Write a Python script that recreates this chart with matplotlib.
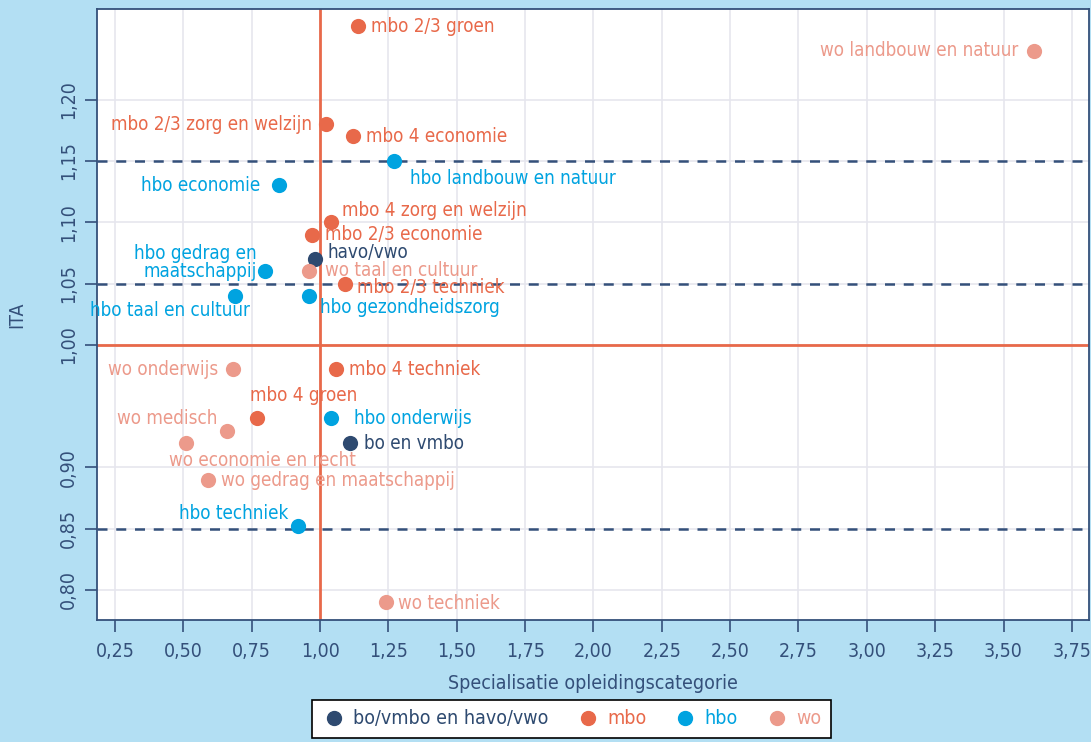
import matplotlib.pyplot as plt
from matplotlib.lines import Line2D

# data
names = ["mbo 2/3 groen", "wo landbouw en natuur", "mbo 2/3 zorg en welzijn", "mbo 4 economie",
         "hbo landbouw en natuur", "hbo economie", "mbo 4 zorg en welzijn", "mbo 2/3 economie",
         "havo/vwo", "wo taal en cultuur", "hbo gedrag en\nmaatschappij", "mbo 2/3 techniek",
         "hbo taal en cultuur", "hbo gezondheidszorg", "wo onderwijs", "mbo 4 techniek",
         "mbo 4 groen", "hbo onderwijs", "wo medisch", "wo economie en recht", "bo en vmbo",
         "wo gedrag en maatschappij", "hbo techniek", "wo techniek"]
spec = [1.14, 3.61, 1.02, 1.12, 1.27, 0.85, 1.04, 0.97, 0.98, 0.96, 0.80, 1.09,
        0.69, 0.96, 0.68, 1.06, 0.77, 1.04, 0.66, 0.51, 1.11, 0.59, 0.92, 1.24]
ita = [1.26, 1.24, 1.18, 1.17, 1.15, 1.13, 1.10, 1.09, 1.07, 1.06, 1.06, 1.05,
       1.04, 1.04, 0.98, 0.98, 0.94, 0.94, 0.93, 0.92, 0.92, 0.89, 0.852, 0.79]
group = ["mbo", "wo", "mbo", "mbo", "hbo", "hbo", "mbo", "mbo", "bo", "wo", "hbo", "mbo",
         "hbo", "hbo", "wo", "mbo", "mbo", "hbo", "wo", "wo", "bo", "wo", "hbo", "wo"]

xticks = [0.25, 0.50, 0.75, 1.00, 1.25, 1.50, 1.75, 2.00, 2.25, 2.50, 2.75, 3.00, 3.25, 3.50, 3.75]
yticks = [0.80, 0.85, 0.90, 1.00, 1.05, 1.10, 1.15, 1.20]
dashed_y = [1.15, 1.05, 0.85]

groups = ["bo", "mbo", "hbo", "wo"]
group_names = ["bo/vmbo en havo/vwo", "mbo", "hbo", "wo"]

# styling
colors = {"bo": "#2e4a70", "mbo": "#e8694a", "hbo": "#00a3e0", "wo": "#ec9a8b"}
navy = "#34507a"
bg = "#b3dff3"
red = "#e8694a"
fs = 13.5

# label offsets in pixels (dx, dy, ha)
offsets = {
    "mbo 2/3 groen": (13, 0, "left"),
    "wo landbouw en natuur": (-15, 0, "right"),
    "mbo 2/3 zorg en welzijn": (-14, 0, "right"),
    "mbo 4 economie": (13, 0, "left"),
    "hbo landbouw en natuur": (16, -18, "left"),
    "hbo economie": (-19, 0, "right"),
    "mbo 4 zorg en welzijn": (11, 12, "left"),
    "mbo 2/3 economie": (13, 0, "left"),
    "havo/vwo": (13, 7, "left"),
    "wo taal en cultuur": (16, 1, "left"),
    "hbo gedrag en\nmaatschappij": (-9, 9, "right"),
    "mbo 2/3 techniek": (12, -4, "left"),
    "hbo taal en cultuur": (15, -15, "right"),
    "hbo gezondheidszorg": (11, -12, "left"),
    "wo onderwijs": (-14, 0, "right"),
    "mbo 4 techniek": (13, 0, "left"),
    "mbo 4 groen": (46, 23, "center"),
    "hbo onderwijs": (23, 0, "left"),
    "wo medisch": (-10, 12, "right"),
    "wo economie en recht": (76, -18, "center"),
    "bo en vmbo": (14, -1, "left"),
    "wo gedrag en maatschappij": (13, -1, "left"),
    "hbo techniek": (-10, 13, "right"),
    "wo techniek": (12, -1, "left"),
}

plt.rcParams['font.family'] = ['DejaVu Sans']
plt.rcParams['font.stretch'] = 'condensed'

fig = plt.figure(figsize=(10.91, 7.42), dpi=100, facecolor=bg)
ax = fig.add_axes([0.0889, 0.1644, 0.9091, 0.8235])
ax.set_facecolor("white")

ax.set_xlim(0.184, 3.812)
ax.set_ylim(0.7755, 1.274)
ax.set_xticks(xticks)
ax.set_yticks(yticks)
ax.set_xticklabels([f"{v:.2f}".replace(".", ",") for v in xticks])
ax.set_yticklabels([f"{v:.2f}".replace(".", ",") for v in yticks], rotation=90, va="center")
ax.grid(True, color="#e6e6ee", lw=1.2, zorder=0)
ax.tick_params(colors=navy, labelsize=14, length=8.5, width=1.2)
ax.tick_params(axis="x", pad=7)
ax.tick_params(axis="y", pad=5)
for s in ax.spines.values():
    s.set_color(navy)
    s.set_linewidth(1.3)

for yv in dashed_y:
    ax.axhline(yv, color=navy, ls=(0, (4, 3.5)), lw=1.8, zorder=2)
ax.axhline(1.0, color=red, lw=2, zorder=2)
ax.axvline(1.0, color=red, lw=2, zorder=2)

for n, x, y, g in zip(names, spec, ita, group):
    ax.scatter(x, y, s=120, color=colors[g], zorder=4, linewidths=0)
    dx, dy, ha = offsets[n]
    ax.annotate(n, (x, y), xytext=(dx, dy), textcoords="offset pixels",
                ha=ha, va="center", color=colors[g], fontsize=fs,
                multialignment="right", linespacing=0.95, zorder=5)

ax.set_ylabel("ITA", color=navy, fontsize=14, labelpad=24)
ax.set_xlabel("Specialisatie opleidingscategorie", color=navy, fontsize=14, labelpad=10)

handles = [Line2D([], [], ls="", marker="o", ms=10, color=colors[g]) for g in groups]
leg = fig.legend(handles, group_names, loc="upper center", bbox_to_anchor=(0.524, 0.057),
                 ncol=4, frameon=True, fancybox=False, edgecolor="black", fontsize=14,
                 framealpha=1, handletextpad=0.4, handlelength=1.2, columnspacing=1.4,
                 borderpad=0.5, borderaxespad=0)
leg.get_frame().set_linewidth(1.2)
leg.get_frame().set_facecolor("white")
for t, g in zip(leg.get_texts(), groups):
    t.set_color(colors[g])

plt.savefig("out.png", dpi=100, facecolor=bg)
